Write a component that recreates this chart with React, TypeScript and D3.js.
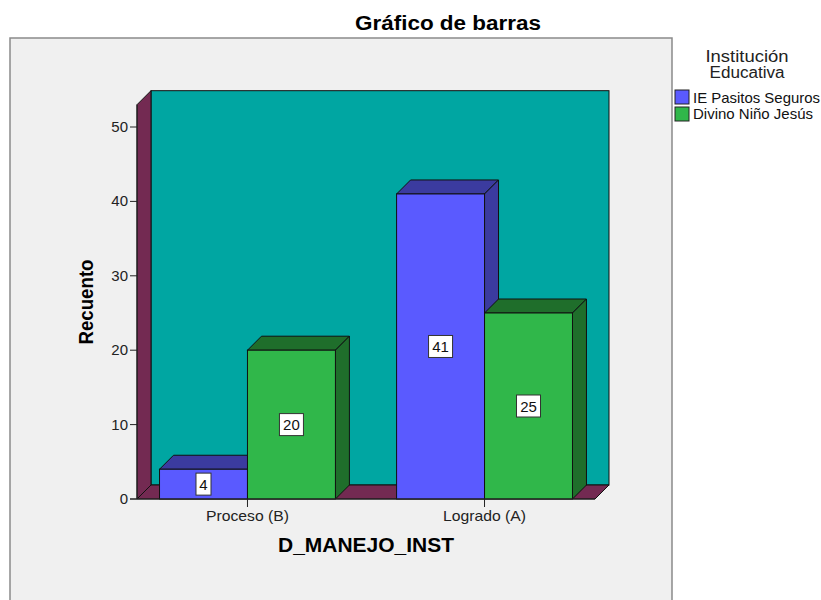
import React, { useEffect, useRef } from 'react';
import * as d3 from 'd3';

const categories = ['Proceso (B)', 'Logrado (A)'];
const seriesNames = ['IE Pasitos Seguros', 'Divino Niño Jesús'];
const pasitosValues = [4, 41];
const divinoValues = [20, 25];
const yTicks = [0, 10, 20, 30, 40, 50];

const frontColors = ['#5a5aff', '#30b74a'];
const darkColors = ['#3b3b9f', '#1f6e2b'];

const App = () => {
  const ref = useRef<SVGSVGElement>(null);

  useEffect(() => {
    document.body.style.margin = '0';
    const svg = d3.select(ref.current);
    svg.selectAll('*').remove();

    const width = 821;
    const height = 600;
    const font = "'Liberation Sans', Arial, sans-serif";
    const dx = 14;
    const dy = -14;

    svg.attr('width', width).attr('height', height).style('display', 'block');

    svg.append('rect').attr('width', width).attr('height', height).attr('fill', '#ffffff');

    // chart frame
    svg
      .append('rect')
      .attr('x', 10)
      .attr('y', 38)
      .attr('width', 662)
      .attr('height', 580)
      .attr('fill', '#f0f0f0')
      .attr('stroke', '#8a8a8a')
      .attr('stroke-width', 1.5);

    svg
      .append('text')
      .text('Gráfico de barras')
      .attr('x', 448)
      .attr('y', 30)
      .attr('text-anchor', 'middle')
      .attr('textLength', 186)
      .attr('lengthAdjust', 'spacingAndGlyphs')
      .style('font-family', font)
      .style('font-weight', 'bold')
      .style('font-size', '20px');

    const x0 = 137;
    const x1 = 595;
    const y = d3.scaleLinear().domain([0, 50]).range([499, 127]);
    const x = d3.scalePoint<string>().domain(categories).range([x0, x1]).padding(0.466);
    const barW = x.step() * 0.371;
    const wallTop = y(53);
    const base = y(0);

    const g = svg.append('g');

    // back wall
    g.append('rect')
      .attr('x', x0 + dx)
      .attr('y', wallTop + dy)
      .attr('width', x1 - x0)
      .attr('height', base - wallTop)
      .attr('fill', '#00a6a2')
      .attr('stroke', '#111')
      .attr('stroke-width', 1);

    // left wall
    g.append('polygon')
      .attr('points', [[x0, base], [x0, wallTop], [x0 + dx, wallTop + dy], [x0 + dx, base + dy]].map(p => p.join(',')).join(' '))
      .attr('fill', '#732a52')
      .attr('stroke', '#111')
      .attr('stroke-width', 1);

    // floor
    g.append('polygon')
      .attr('points', [[x0, base], [x0 + dx, base + dy], [x1 + dx, base + dy], [x1, base]].map(p => p.join(',')).join(' '))
      .attr('fill', '#732a52')
      .attr('stroke', '#111')
      .attr('stroke-width', 1);

    // y axis
    g.append('line')
      .attr('x1', x0).attr('x2', x0)
      .attr('y1', wallTop).attr('y2', base)
      .attr('stroke', '#222');
    yTicks.forEach(t => {
      g.append('line')
        .attr('x1', x0 - 7).attr('x2', x0)
        .attr('y1', y(t)).attr('y2', y(t))
        .attr('stroke', '#222');
      g.append('text')
        .text(t)
        .attr('x', x0 - 9)
        .attr('y', y(t) + 5)
        .attr('text-anchor', 'end')
        .style('font-family', font)
        .style('font-size', '15px')
        .attr('fill', '#222');
    });

    const series = [pasitosValues, divinoValues];

    // bars
    categories.forEach((c, ci) => {
      const cx = x(c) as number;
      series.forEach((vals, si) => {
        const v = vals[ci];
        const left = cx - barW + si * barW;
        const right = left + barW;
        const top = y(v);
        g.append('polygon')
          .attr('points', [[left, top], [left + dx, top + dy], [right + dx, top + dy], [right, top]].map(p => p.join(',')).join(' '))
          .attr('fill', darkColors[si])
          .attr('stroke', '#111');
        g.append('polygon')
          .attr('points', [[right, top], [right + dx, top + dy], [right + dx, base + dy], [right, base]].map(p => p.join(',')).join(' '))
          .attr('fill', darkColors[si])
          .attr('stroke', '#111');
        g.append('rect')
          .attr('x', left)
          .attr('y', top)
          .attr('width', barW)
          .attr('height', base - top)
          .attr('fill', frontColors[si])
          .attr('stroke', '#111');
      });
    });

    // x axis
    g.append('line')
      .attr('x1', x0 - 7).attr('x2', x1)
      .attr('y1', base).attr('y2', base)
      .attr('stroke', '#222');
    categories.forEach(c => {
      const cx = x(c) as number;
      g.append('line')
        .attr('x1', cx).attr('x2', cx)
        .attr('y1', base).attr('y2', base + 8)
        .attr('stroke', '#222');
      g.append('text')
        .text(c)
        .attr('x', cx)
        .attr('y', base + 22)
        .attr('text-anchor', 'middle')
        .attr('textLength', 83)
        .attr('lengthAdjust', 'spacingAndGlyphs')
        .style('font-family', font)
        .style('font-size', '15px')
        .attr('fill', '#222');
    });

    // value labels
    categories.forEach((c, ci) => {
      const cx = x(c) as number;
      series.forEach((vals, si) => {
        const v = vals[ci];
        const mx = cx - barW / 2 + si * barW;
        const my = (y(v) + base) / 2;
        const label = String(v);
        const w = label.length * 9 + 6;
        g.append('rect')
          .attr('x', mx - w / 2)
          .attr('y', my - 11)
          .attr('width', w)
          .attr('height', 22)
          .attr('fill', '#ffffff')
          .attr('stroke', '#333');
        g.append('text')
          .text(label)
          .attr('x', mx)
          .attr('y', my + 5.5)
          .attr('text-anchor', 'middle')
          .style('font-family', font)
          .style('font-size', '15px')
          .attr('fill', '#111');
      });
    });

    // axis titles
    svg
      .append('text')
      .text('Recuento')
      .attr('transform', `translate(93, 302) rotate(-90)`)
      .attr('text-anchor', 'middle')
      .attr('textLength', 85)
      .attr('lengthAdjust', 'spacingAndGlyphs')
      .style('font-family', font)
      .style('font-weight', 'bold')
      .style('font-size', '20px');

    svg
      .append('text')
      .text('D_MANEJO_INST')
      .attr('x', 366)
      .attr('y', 552)
      .attr('text-anchor', 'middle')
      .attr('textLength', 176)
      .attr('lengthAdjust', 'spacingAndGlyphs')
      .style('font-family', font)
      .style('font-weight', 'bold')
      .style('font-size', '20px');

    // legend
    const legend = svg.append('g');
    ['Institución', 'Educativa'].forEach((t, i) => {
      legend
        .append('text')
        .text(t)
        .attr('x', 747)
        .attr('y', 62 + i * 16)
        .attr('text-anchor', 'middle')
        .attr('textLength', i === 0 ? 83 : 75)
        .attr('lengthAdjust', 'spacingAndGlyphs')
        .style('font-family', font)
        .style('font-size', '16px')
        .attr('fill', '#222');
    });
    seriesNames.forEach((s, i) => {
      legend
        .append('rect')
        .attr('x', 675)
        .attr('y', 90 + i * 17)
        .attr('width', 14)
        .attr('height', 14)
        .attr('fill', frontColors[i])
        .attr('stroke', '#222');
      legend
        .append('text')
        .text(s)
        .attr('x', 693)
        .attr('y', 103 + i * 16)
        .attr('textLength', i === 0 ? 127 : 120)
        .attr('lengthAdjust', 'spacingAndGlyphs')
        .style('font-family', font)
        .style('font-size', '15px')
        .attr('fill', '#111');
    });
  }, []);

  return <svg ref={ref}></svg>;
};

export default App;
